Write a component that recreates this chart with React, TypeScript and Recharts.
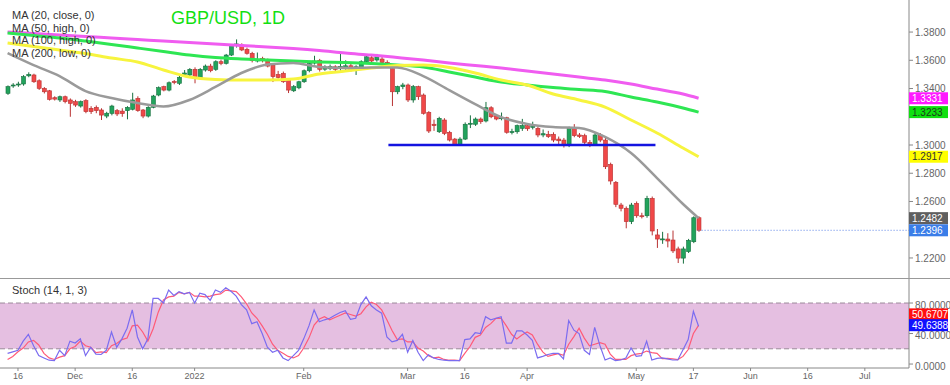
import React from "react";
import {
  ComposedChart,
  Bar,
  Line,
  XAxis,
  YAxis,
  ReferenceLine,
  ReferenceArea,
} from "recharts";

// daily candles, index 0 = 12 Nov 2021 (weekdays only)
const opens = [
  1.3366, 1.3418, 1.3425, 1.3432, 1.349, 1.3496, 1.3455, 1.3401, 1.3384, 1.3335,
  1.3319, 1.3342, 1.3319, 1.3307, 1.3276, 1.3314, 1.326, 1.3267, 1.3248, 1.3205,
  1.3224, 1.3243, 1.324, 1.3243, 1.3253, 1.333, 1.3248, 1.3205, 1.3267, 1.3354,
  1.3413, 1.3389, 1.345, 1.3437, 1.35, 1.3496, 1.3536, 1.3472, 1.3531, 1.3559,
  1.3536, 1.359, 1.3578, 1.3637, 1.3712, 1.3708, 1.3678, 1.3649, 1.3595, 1.3614,
  1.3602, 1.3566, 1.35, 1.3508, 1.3465, 1.3384, 1.3405, 1.3448, 1.3526, 1.358,
  1.36, 1.3537, 1.354, 1.3554, 1.3552, 1.3543, 1.3561, 1.3531, 1.3547, 1.359,
  1.3618, 1.3602, 1.3609, 1.3585, 1.3543, 1.3377, 1.3413, 1.3425, 1.3319, 1.3413,
  1.3354, 1.3231, 1.3147, 1.3094, 1.3177, 1.309, 1.3042, 1.3005, 1.3042, 1.3147,
  1.3147, 1.3184, 1.317, 1.3264, 1.3207, 1.319, 1.3193, 1.3092, 1.3094, 1.3118,
  1.3137, 1.3125, 1.3118, 1.3071, 1.3076, 1.3076, 1.3042, 1.3035, 1.3, 1.3118,
  1.3071, 1.3066, 1.3019, 1.3005, 1.3071, 1.3035, 1.2863, 1.2736, 1.2575, 1.2552,
  1.2457, 1.2587, 1.2499, 1.2499, 1.2622, 1.2363, 1.233, 1.2334, 1.2327, 1.2264,
  1.2199, 1.2245, 1.2315, 1.2485,
];
const highs = [
  1.3422, 1.3438, 1.3448, 1.3495, 1.3515, 1.3505, 1.3465, 1.341, 1.339, 1.3345,
  1.335, 1.335, 1.333, 1.332, 1.3315, 1.3325, 1.3275, 1.328, 1.326, 1.3235,
  1.3285, 1.3255, 1.326, 1.3275, 1.337, 1.3345, 1.3255, 1.3275, 1.3355, 1.3415,
  1.342, 1.345, 1.346, 1.349, 1.3531, 1.3545, 1.355, 1.3545, 1.357, 1.3575,
  1.36, 1.3605, 1.3645, 1.3715, 1.3748, 1.372, 1.369, 1.366, 1.3655, 1.3625,
  1.3612, 1.3575, 1.3525, 1.352, 1.347, 1.3425, 1.3455, 1.3535, 1.3585, 1.3632,
  1.361, 1.3565, 1.357, 1.3565, 1.3649, 1.36, 1.3575, 1.3565, 1.36, 1.364,
  1.364, 1.3645, 1.3625, 1.36, 1.3555, 1.342, 1.344, 1.3435, 1.3425, 1.342,
  1.3365, 1.324, 1.318, 1.32, 1.319, 1.31, 1.305, 1.3055, 1.316, 1.321,
  1.3195, 1.3195, 1.3305, 1.3275, 1.3215, 1.323, 1.32, 1.3115, 1.3145, 1.3185,
  1.315, 1.3165, 1.313, 1.311, 1.31, 1.309, 1.306, 1.305, 1.313, 1.3148,
  1.3085, 1.308, 1.3035, 1.309, 1.3085, 1.305, 1.2875, 1.2745, 1.259, 1.2565,
  1.259, 1.26, 1.252, 1.264, 1.2635, 1.2405, 1.2385, 1.2375, 1.2394, 1.228,
  1.228, 1.2335, 1.2495, 1.2495,
];
const lows = [
  1.3355, 1.3405, 1.3412, 1.342, 1.348, 1.344, 1.339, 1.3365, 1.3315, 1.3315,
  1.3305, 1.3295, 1.32, 1.327, 1.3265, 1.3225, 1.322, 1.3225, 1.3177, 1.319,
  1.321, 1.3205, 1.32, 1.3182, 1.3245, 1.3235, 1.319, 1.3195, 1.326, 1.3345,
  1.338, 1.338, 1.343, 1.3425, 1.349, 1.3488, 1.3437, 1.3465, 1.352, 1.3515,
  1.3525, 1.3565, 1.357, 1.363, 1.369, 1.3665, 1.364, 1.3585, 1.3585, 1.3585,
  1.355, 1.3446, 1.347, 1.344, 1.3368, 1.3375, 1.3395, 1.344, 1.3515, 1.357,
  1.352, 1.3525, 1.353, 1.352, 1.352, 1.3525, 1.352, 1.3496, 1.354, 1.3585,
  1.3585, 1.359, 1.357, 1.355, 1.3276, 1.336, 1.3395, 1.3305, 1.33, 1.332,
  1.3215, 1.3085, 1.31, 1.3085, 1.307, 1.3025, 1.3, 1.2998, 1.3035, 1.312,
  1.3135, 1.315, 1.316, 1.319, 1.3175, 1.3175, 1.308, 1.3075, 1.308, 1.31,
  1.31, 1.311, 1.3055, 1.3055, 1.305, 1.302, 1.3, 1.2982, 1.2985, 1.3055,
  1.305, 1.3005, 1.2985, 1.2995, 1.302, 1.283, 1.272, 1.256, 1.253, 1.241,
  1.244, 1.2485, 1.248, 1.2485, 1.236, 1.2271, 1.23, 1.2275, 1.2235, 1.2164,
  1.216, 1.2235, 1.2305, 1.2385,
];
const closes = [
  1.3413, 1.3425, 1.3432, 1.3484, 1.35, 1.3448, 1.3401, 1.3377, 1.3323, 1.3325,
  1.3342, 1.3307, 1.3295, 1.3283, 1.3307, 1.3236, 1.3236, 1.3243, 1.3212, 1.3225,
  1.3276, 1.322, 1.3222, 1.3267, 1.3319, 1.3243, 1.3205, 1.3267, 1.3347, 1.3406,
  1.3389, 1.3441, 1.3442, 1.3479, 1.351, 1.3536, 1.3472, 1.3536, 1.3559, 1.3526,
  1.359, 1.3578, 1.3637, 1.3708, 1.3716, 1.3673, 1.3649, 1.3597, 1.3603, 1.3597,
  1.3559, 1.3484, 1.3478, 1.3448, 1.3389, 1.3413, 1.3448, 1.3526, 1.3578, 1.3595,
  1.3536, 1.3553, 1.3556, 1.3536, 1.3557, 1.3561, 1.3531, 1.3554, 1.359, 1.3625,
  1.3595, 1.3625, 1.3585, 1.3561, 1.3377, 1.3413, 1.3425, 1.3319, 1.3413, 1.3342,
  1.3224, 1.3099, 1.3137, 1.3189, 1.3082, 1.3035, 1.3005, 1.3042, 1.3147, 1.3154,
  1.3184, 1.3165, 1.3264, 1.32, 1.3184, 1.3193, 1.309, 1.3095, 1.3137, 1.3137,
  1.3115, 1.3132, 1.3071, 1.308, 1.306, 1.3035, 1.303, 1.3, 1.3118, 1.3066,
  1.306, 1.3019, 1.3, 1.3071, 1.3035, 1.2846, 1.2745, 1.258, 1.2552, 1.2457,
  1.2575, 1.2499, 1.2492, 1.2622, 1.2391, 1.2334, 1.2335, 1.232, 1.225, 1.2199,
  1.2264, 1.2325, 1.2485, 1.2396,
];

// moving averages read every 5 sessions (plus the last one)
const maIndex = [
  0, 5, 10, 15, 20, 25, 30, 35, 40, 45, 50, 55, 60, 65, 70, 75, 80, 85, 90, 95,
  100, 105, 110, 115, 120, 125, 130, 133,
];
const ma20 = [
  1.3651, 1.3566, 1.3488, 1.3382, 1.3333, 1.3297, 1.3273, 1.3319, 1.3411, 1.351,
  1.357, 1.3581, 1.3552, 1.3545, 1.3549, 1.3549, 1.3488, 1.3389, 1.329, 1.3198,
  1.3149, 1.3127, 1.312, 1.3057, 1.2943, 1.2766, 1.2582, 1.2482,
];
const ma50 = [
  1.3722, 1.3697, 1.3673, 1.3648, 1.3616, 1.3588, 1.3531, 1.3481, 1.3464, 1.346,
  1.346, 1.3467, 1.3503, 1.3524, 1.3545, 1.3563, 1.3566, 1.3549, 1.351, 1.346,
  1.3425, 1.3361, 1.3319, 1.3269, 1.3177, 1.3085, 1.2979, 1.2917,
];
const ma100 = [
  1.3793, 1.3775, 1.3758, 1.3736, 1.3712, 1.3687, 1.3662, 1.3637, 1.3619, 1.3609,
  1.3602, 1.3595, 1.3588, 1.3584, 1.3577, 1.3566, 1.3552, 1.3517, 1.3481, 1.3446,
  1.3425, 1.3407, 1.3393, 1.3379, 1.334, 1.3304, 1.3262, 1.3233,
];
const ma200 = [
  1.38, 1.3789, 1.3779, 1.3768, 1.3758, 1.3747, 1.3736, 1.3726, 1.3715, 1.3705,
  1.3694, 1.3683, 1.3669, 1.3651, 1.3637, 1.362, 1.3602, 1.3581, 1.3563, 1.3545,
  1.3524, 1.3503, 1.3481, 1.346, 1.3432, 1.3396, 1.3361, 1.3331,
];

const stochK = [
  14, 16, 18, 30, 39, 24, 11, 8, 5, 4.5,
  18, 11, 30, 27.5, 33, 11, 22, 13, 12.5, 18,
  42, 22, 33, 47, 71, 35.5, 20, 33, 86, 86,
  80, 97, 90, 95, 92, 94, 80, 93, 91, 83.5,
  97, 94, 100, 95.5, 89, 78, 71, 53, 55.5, 40,
  22, 15.5, 18, 8, 4.5, 11, 18, 33, 50, 71,
  55.5, 58, 60, 64, 67.5, 70, 58.6, 60, 78, 88,
  76.4, 71, 66.6, 35.5, 29, 31, 39, 15.5, 31, 15.5,
  4.5, 12, 8, 6, 5, 4.5, 4.5, 4.5, 32, 33,
  41, 40, 62, 58, 60, 62, 27.5, 27.5, 43.5, 43.5,
  38, 31, 8, 10, 12.5, 14, 14, 6.7, 57, 44.4,
  40, 18, 12.5, 48, 24.4, 5.3, 8, 4.5, 5.3, 8,
  21, 10, 11, 30, 5.3, 7.5, 8, 6.7, 5.3, 5.3,
  18.7, 32, 69, 49.6388,
];
const stochD = [
  6, 10, 16, 21, 29, 31, 25, 14, 8, 6,
  9, 11, 20, 23, 30, 24, 22, 15, 16, 15,
  24, 27, 32, 34, 50, 51, 42, 30, 46, 68,
  84, 88, 89, 94, 92, 94, 89, 89, 88, 89,
  91, 92, 97, 96, 95, 88, 79, 67, 60, 50,
  39, 26, 18, 14, 10, 8, 11, 21, 34, 51,
  59, 62, 58, 61, 64, 67, 65, 63, 66, 75,
  81, 78, 71, 58, 44, 32, 33, 29, 29, 21,
  17, 11, 8, 9, 6, 5, 5, 4.5, 14, 23,
  35, 38, 48, 53, 60, 60, 50, 39, 33, 38,
  42, 38, 26, 16, 10, 12, 13.5, 11.5, 26, 36,
  47, 34, 24, 26, 28, 26, 13, 6, 6, 6,
  11, 13, 14, 17, 15, 14, 7, 7.4, 6.7, 5.8,
  10, 19, 40, 50.6707,
];

const tickIndex = [2, 13, 24, 36, 57, 77, 88, 100, 121, 132, 143, 154, 165];
const tickLabels = ["16", "Dec", "16", "2022", "Feb", "Mar", "16", "Apr", "May", "17", "Jun", "16", "Jul"];
// 1.3200 and 1.2400 sit under the value tags in the original, so they are left out
const priceTicks = [1.38, 1.36, 1.34, 1.3, 1.28, 1.26, 1.22];
const stochTicks = [0, 40, 80];

const supportLevel = 1.3;
const supportFrom = 73.3;
const supportTo = 124.7;

const xDomain: [number, number] = [-1.46, 173.5];
const priceDomain: [number, number] = [1.2051, 1.4027];
const stochDomain: [number, number] = [-5.2, 111.5];
const FONT = "'Liberation Sans', Arial, sans-serif";

const rows = opens.map((open, i) => {
  const k = maIndex.indexOf(i);
  return {
    i,
    open,
    high: highs[i],
    low: lows[i],
    close: closes[i],
    ma20: k >= 0 ? ma20[k] : null,
    ma50: k >= 0 ? ma50[k] : null,
    ma100: k >= 0 ? ma100[k] : null,
    ma200: k >= 0 ? ma200[k] : null,
    k: stochK[i],
    d: stochD[i],
  };
});

const last = (a: number[]) => a[a.length - 1];

function Candle(props: any) {
  const { x, y, width, height, payload } = props;
  if (!payload || height == null) return null;
  const { open, close, high, low } = payload;
  const top = Math.min(y, y + height);
  const h = Math.abs(height);
  const ratio = h / (high - low || 1);
  const yOf = (p: number) => top + (high - p) * ratio;
  const up = close >= open;
  const bTop = yOf(Math.max(open, close));
  const bBot = yOf(Math.min(open, close));
  const cx = x + width / 2;
  const fill = up ? "#21a35c" : "#f04848";
  const stroke = up ? "#17703f" : "#b83232";
  return (
    <g>
      <line x1={cx} x2={cx} y1={top} y2={top + h} stroke={stroke} strokeWidth={1} />
      <rect x={x} y={bTop} width={width} height={Math.max(1, bBot - bTop)} fill={fill} stroke={stroke} strokeWidth={0.6} />
    </g>
  );
}

function tag(value: number, bg: string, fg: string, dy = 0) {
  return (props: any) => {
    const vb = props.viewBox || {};
    const x = (vb.x ?? 0) + (vb.width ?? 0);
    const y = (vb.y ?? 0) + dy;
    return (
      <g>
        <rect x={x} y={y - 6} width={39} height={12} fill={bg} />
        <text x={x + 3} y={y + 3.5} fontSize={10} fill={fg} fontFamily={FONT}>
          {value.toFixed(4)}
        </text>
      </g>
    );
  };
}

// transparent copy of an axis frame, so the value tags sit above the tick labels
function TagLayer({ height, top, domain, children }: any) {
  return (
    <div style={{ position: "absolute", left: 0, top }}>
      <ComposedChart width={950} height={height} data={rows} margin={{ top: top === 0 ? 0 : 1, right: 0, bottom: top === 0 ? 0 : 17, left: 0 }}>
        <XAxis type="number" dataKey="i" domain={xDomain} hide allowDataOverflow />
        <YAxis orientation="right" domain={domain} allowDataOverflow width={41} tick={false} axisLine={false} tickLine={false} />
        {children}
      </ComposedChart>
    </div>
  );
}

export default function App() {
  return (
    <div style={{ position: "absolute", left: 0, top: 0, width: 950, height: 385, background: "#fff", fontFamily: FONT }}>
      <ComposedChart width={950} height={279} data={rows} margin={{ top: 0, right: 0, bottom: 0, left: 0 }}>
        <XAxis type="number" dataKey="i" domain={xDomain} hide allowDataOverflow />
        <YAxis
          orientation="right"
          domain={priceDomain}
          ticks={priceTicks}
          allowDataOverflow
          width={41}
          tickFormatter={(v: number) => v.toFixed(4)}
          tick={{ fontSize: 10, fill: "#666", fontFamily: FONT }}
          tickSize={4}
          axisLine={{ stroke: "#888" }}
          tickLine={{ stroke: "#888" }}
        />
        <Line dataKey="ma200" type="monotone" connectNulls stroke="#f05cf0" strokeWidth={3} dot={false} isAnimationActive={false} />
        <Line dataKey="ma100" type="monotone" connectNulls stroke="#2ee653" strokeWidth={3} dot={false} isAnimationActive={false} />
        <Line dataKey="ma50" type="monotone" connectNulls stroke="#f7f43e" strokeWidth={3} dot={false} isAnimationActive={false} />
        <Line dataKey="ma20" type="monotone" connectNulls stroke="#9a9a9a" strokeWidth={2.5} dot={false} isAnimationActive={false} />
        <ReferenceLine
          segment={[{ x: supportFrom, y: supportLevel }, { x: supportTo, y: supportLevel }]}
          stroke="#1414e0"
          strokeWidth={2.5}
        />
        <ReferenceLine
          segment={[{ x: rows.length - 1, y: last(closes) }, { x: xDomain[1], y: last(closes) }]}
          stroke="#5b83e6"
          strokeDasharray="1 2"
        />
        <Bar dataKey={(d: any) => [d.low, d.high]} barSize={4} shape={<Candle />} isAnimationActive={false} />
      </ComposedChart>

      <TagLayer height={279} top={0} domain={priceDomain}>
        <ReferenceLine y={last(ma200)} stroke="none" label={tag(last(ma200), "#ff1aff", "#fff")} />
        <ReferenceLine y={last(ma100)} stroke="none" label={tag(last(ma100), "#0fe00f", "#1a3a1a")} />
        <ReferenceLine y={last(ma50)} stroke="none" label={tag(last(ma50), "#ffff00", "#333")} />
        <ReferenceLine y={last(ma20)} stroke="none" label={tag(last(ma20), "#5f5f5f", "#fff")} />
        <ReferenceLine y={last(closes)} stroke="none" label={tag(last(closes), "#3a7de8", "#fff")} />
      </TagLayer>

      <div style={{ position: "absolute", left: 0, top: 278, width: 950, height: 1, background: "#999" }} />

      <div style={{ position: "absolute", left: 0, top: 278 }}>
        <ComposedChart width={950} height={107} data={rows} margin={{ top: 1, right: 0, bottom: 0, left: 0 }}>
          <XAxis
            type="number"
            dataKey="i"
            domain={xDomain}
            allowDataOverflow
            ticks={tickIndex}
            tickFormatter={(v: number) => tickLabels[tickIndex.indexOf(v)] ?? ""}
            height={17}
            tick={{ fontSize: 9, fill: "#666", fontFamily: FONT }}
            tickSize={3}
            axisLine={{ stroke: "#888" }}
            tickLine={{ stroke: "#888" }}
          />
          <YAxis
            orientation="right"
            domain={stochDomain}
            ticks={stochTicks}
            allowDataOverflow
            width={41}
            tickFormatter={(v: number) => v.toFixed(4)}
            tick={{ fontSize: 10, fill: "#666", fontFamily: FONT, dy: 2 }}
            tickSize={4}
            axisLine={{ stroke: "#888" }}
            tickLine={{ stroke: "#888" }}
          />
          <ReferenceArea y1={20} y2={80} fill="#e5bfe1" fillOpacity={1} stroke="none" />
          <ReferenceLine y={80} stroke="#9b8a9a" strokeDasharray="5 3" />
          <ReferenceLine y={20} stroke="#9b8a9a" strokeDasharray="5 3" />
          <Line dataKey="d" type="linear" stroke="#ff5a78" strokeWidth={1.2} dot={false} isAnimationActive={false} />
          <Line dataKey="k" type="linear" stroke="#7b6cf0" strokeWidth={1.2} dot={false} isAnimationActive={false} />
        </ComposedChart>
      </div>

      <TagLayer height={107} top={278} domain={stochDomain}>
        <ReferenceLine y={last(stochD)} stroke="none" label={tag(last(stochD), "#ff1010", "#fff", -11)} />
        <ReferenceLine y={last(stochK)} stroke="none" label={tag(last(stochK), "#1010ff", "#fff", -1)} />
      </TagLayer>

      <div style={{ position: "absolute", left: 12, top: 9, fontSize: 11, lineHeight: "12.5px", color: "#333" }}>
        <div>MA (20, close, 0)</div>
        <div>MA (50, high, 0)</div>
        <div>MA (100, high, 0)</div>
        <div>MA (200, low, 0)</div>
      </div>
      <div style={{ position: "absolute", left: 171, top: 8, fontSize: 18, color: "#12e012" }}>GBP/USD, 1D</div>
      <div style={{ position: "absolute", left: 12, top: 284, fontSize: 11, color: "#333" }}>Stoch (14, 1, 3)</div>
    </div>
  );
}
